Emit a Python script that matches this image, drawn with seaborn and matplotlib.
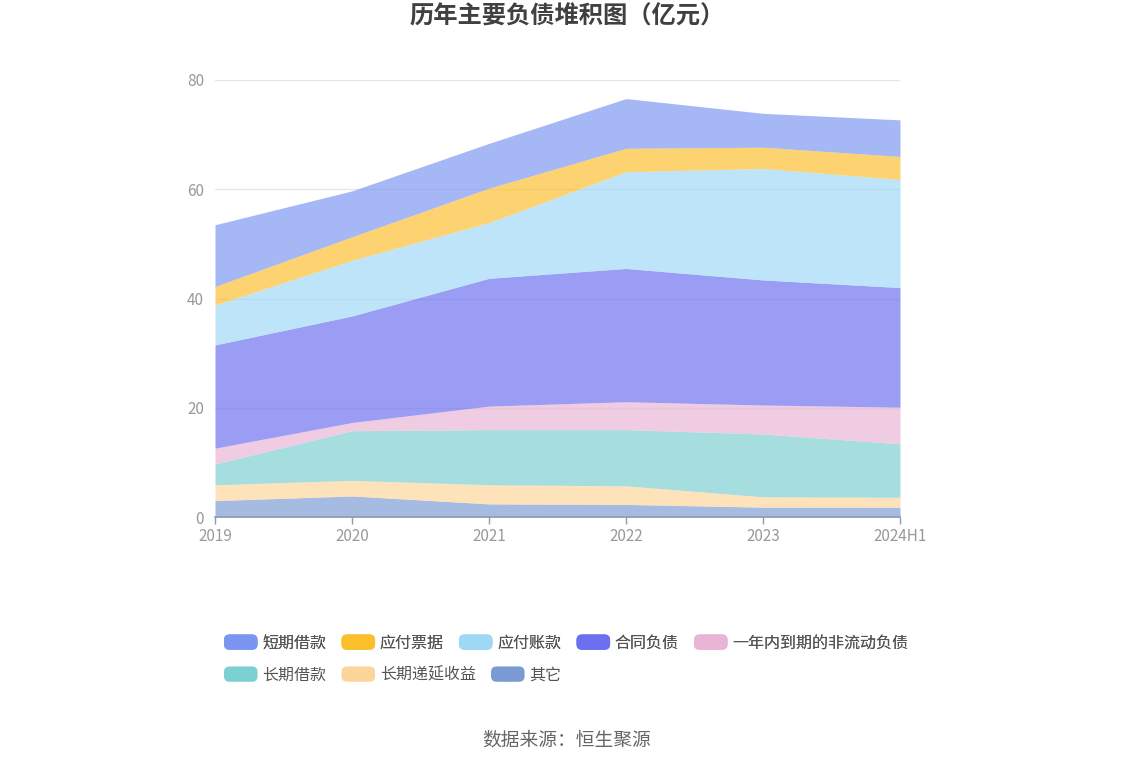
import matplotlib
matplotlib.use("Agg")
import matplotlib.pyplot as plt
from matplotlib.patches import FancyBboxPatch, Patch
from matplotlib.legend_handler import HandlerPatch
import numpy as np
import pandas as pd
import seaborn as sns

# Werte in 亿元, von unten nach oben gestapelt
jahre = ["2019", "2020", "2021", "2022", "2023", "2024H1"]
qita = [3.0, 3.85, 2.4, 2.3, 1.8, 1.8]
changqi_diyan = [2.9, 2.85, 3.5, 3.4, 1.9, 1.8]
changqi_jiekuan = [3.8, 9.1, 10.1, 10.3, 11.5, 9.8]
yinian_daoqi = [2.9, 1.5, 4.3, 5.1, 5.3, 6.7]
hetong_fuzhai = [18.9, 19.5, 23.4, 24.4, 22.9, 21.9]
yingfu_zhangkuan = [7.3, 10.2, 10.2, 17.7, 20.4, 19.8]
yingfu_piaoju = [3.4, 4.3, 6.3, 4.3, 3.9, 4.2]
duanqi_jiekuan = [11.3, 8.4, 8.2, 9.1, 6.2, 6.7]

namen = ["短期借款", "应付票据", "应付账款", "合同负债", "一年内到期的非流动负债",
         "长期借款", "长期递延收益", "其它"]
farben = ["#7b96f0", "#fbbf2c", "#9ed8f5", "#6c6ff0", "#e9b4d6",
          "#7ccfd2", "#fdd59a", "#7a9bd4"]

df = pd.DataFrame({
    "短期借款": duanqi_jiekuan,
    "应付票据": yingfu_piaoju,
    "应付账款": yingfu_zhangkuan,
    "合同负债": hetong_fuzhai,
    "一年内到期的非流动负债": yinian_daoqi,
    "长期借款": changqi_jiekuan,
    "长期递延收益": changqi_diyan,
    "其它": qita,
}, index=jahre)

sns.set_theme(style="white")
plt.rcParams['font.family'] = ['Noto Sans CJK SC', 'DejaVu Sans']

fig = plt.figure(figsize=(11.34, 7.66), dpi=100)
ax = fig.add_axes([215/1134, 1-517/766, 685/1134, 437/766])

x = np.arange(len(jahre))
reihen = namen[::-1]  # unten zuerst
ax.stackplot(x, [df[n].values for n in reihen],
             colors=sns.color_palette(farben[::-1]), alpha=0.68, linewidth=0)

ax.set_xlim(0, len(jahre) - 1)
ax.set_ylim(0, 80)
ax.set_yticks([0, 20, 40, 60, 80])
ax.set_xticks(x)
ax.set_xticklabels(jahre)
for yy in [20, 40, 60, 80]:
    ax.axhline(yy, color="#e6e6e6", linewidth=1, zorder=0)
ax.tick_params(axis="y", length=0, labelsize=11, labelcolor="#999999", pad=8)
ax.tick_params(axis="x", length=5, width=1, color="#8e9bb3", labelsize=11,
               labelcolor="#999999", pad=3, direction="out", bottom=True)
sns.despine(ax=ax, left=True, top=True, right=True)
ax.spines["bottom"].set_color("#8e9bb3")
ax.spines["bottom"].set_linewidth(1.2)
ax.set_facecolor("none")

fig.text(0.5, 1-17/766, "历年主要负债堆积图（亿元）", ha="center", va="center",
         fontsize=17.5, fontweight="bold", color="#404040")
fig.text(0.5, 1-740/766, "数据来源：恒生聚源", ha="center", va="center",
         fontsize=13.5, color="#666666")


class RundBox(HandlerPatch):
    def create_artists(self, legend, orig_handle, xdescent, ydescent,
                       width, height, fontsize, trans):
        p = FancyBboxPatch((-xdescent, -ydescent), width, height,
                           boxstyle="round,pad=0,rounding_size=4",
                           facecolor=orig_handle.get_facecolor(),
                           edgecolor="none", transform=trans)
        return [p]


def legende(idx, ypix):
    handles = [Patch(facecolor=farben[i], label=namen[i]) for i in idx]
    lg = fig.legend(handles=handles, loc="center left",
                    bbox_to_anchor=(224/1134, 1-ypix/766), ncol=len(idx),
                    frameon=False, fontsize=11.5, handlelength=2.1,
                    handleheight=1.1, handletextpad=0.3, columnspacing=0.95,
                    borderpad=0, borderaxespad=0,
                    handler_map={Patch: RundBox()})
    for t in lg.get_texts():
        t.set_color("#555555")
    return lg


l1 = legende([0, 1, 2, 3, 4], 643)
fig.add_artist(l1)
legende([5, 6, 7], 675)

fig.savefig("out.png", dpi=100)
